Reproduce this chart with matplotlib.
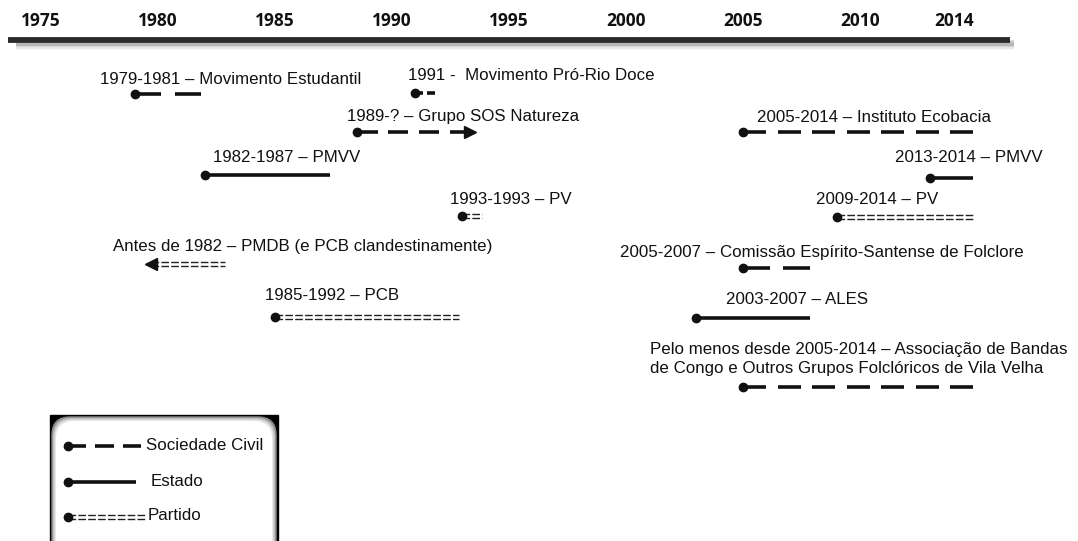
import matplotlib.pyplot as plt
import matplotlib.transforms as mtransforms
from matplotlib.patches import FancyBboxPatch, Rectangle

# --- data -------------------------------------------------------------
tick_years = [1975, 1980, 1985, 1990, 1995, 2000, 2005, 2010, 2014]

labels = [
    "1979-1981 \u2013 Movimento Estudantil",
    "1991 -  Movimento Pr\u00f3-Rio Doce",
    "1989-? \u2013 Grupo SOS Natureza",
    "1982-1987 \u2013 PMVV",
    "1993-1993 \u2013 PV",
    "Antes de 1982 \u2013 PMDB (e PCB clandestinamente)",
    "1985-1992 \u2013 PCB",
    "2005-2014 \u2013 Instituto Ecobacia",
    "2013-2014 \u2013 PMVV",
    "2009-2014 \u2013 PV",
    "2005-2007 \u2013 Comiss\u00e3o Esp\u00edrito-Santense de Folclore",
    "2003-2007 \u2013 ALES",
    "Pelo menos desde 2005-2014 \u2013 Associa\u00e7\u00e3o de Bandas\n"
    "de Congo e Outros Grupos Folcl\u00f3ricos de Vila Velha",
]
start_year = [1979, 1991, 1988.5, 1982, 1993, 1979.7, 1985, 2005, 2013, 2009, 2005, 2003, 2005]
end_year = [1981, 1991, 1992.5, 1986.5, 1993, 1982, 1992, 2014, 2014, 2014, 2007, 2007, 2014]
actor = ["civil", "civil", "civil", "estado", "partido", "partido", "partido",
         "civil", "estado", "partido", "civil", "estado", "civil"]
# open-ended spans: "right" = continues, "left" = began earlier
open_end = [None, None, "right", None, None, "left", None,
            None, None, None, None, None, None]

legend_names = ["Sociedade Civil", "Estado", "Partido"]
legend_kinds = ["civil", "estado", "partido"]

# --- layout (pixels) --------------------------------------------------
W, H = 1078, 541
PX_PER_YEAR = 23.4
X0_YEAR = 1980 - 158 / PX_PER_YEAR
line_y = [94, 93, 132, 175, 216, 264, 317, 132, 178, 217, 268, 318, 387]
label_xy = [(100, 79), (408, 76), (347, 117), (213, 158), (450, 200), (113, 246),
            (265, 295), (757, 117), (895, 158), (816, 200), (620, 253), (726, 300),
            (650, 359)]
END_FRAC = 0.85  # bar reaches into the last year

fig = plt.figure(figsize=(W / 100, H / 100), dpi=100)
ax = fig.add_axes([0, 0, 1, 1])
ax.set_xlim(X0_YEAR, X0_YEAR + W / PX_PER_YEAR)
ax.set_ylim(H, 0)
ax.axis("off")

# pixel transform for layout pieces
pxt = mtransforms.Affine2D().scale(0.01, -0.01).translate(0, H / 100) + fig.dpi_scale_trans
txt_font = dict(family="Liberation Sans", fontsize=12.2, color="#111111")

# --- timeline axis ----------------------------------------------------
for off, a in [(7, 0.06), (5.5, 0.12), (4, 0.2), (2.5, 0.3)]:
    ax.plot([16, 1014], [40 + off, 40 + off], transform=pxt, color="#777777",
            lw=4, alpha=a, solid_capstyle="butt")
ax.plot([8, 1010], [40, 40], transform=pxt, color="#2b2b2b", lw=4.2,
        solid_capstyle="butt")
for yr in tick_years:
    ax.text(yr, 21, str(yr), ha="center", va="center", fontsize=12.5,
            fontweight="bold", family="Open Sans", color="#111111")


def draw_span(x0, x1, y, kind, trans=None, arrow=None, n_dash=None, scale=PX_PER_YEAR):
    kw = {} if trans is None else {"transform": trans}
    if kind == "civil":
        length = (x1 - x0) * scale
        n = n_dash or max(2, round((length + 12) / 34))
        unit = (x1 - x0) / (n + (n - 1) * 0.5)
        for k in range(n):
            a = x0 + k * unit * 1.5
            ax.plot([a, a + unit], [y, y], color="#111111", lw=2.6,
                    solid_capstyle="butt", **kw)
    elif kind == "estado":
        ax.plot([x0, x1], [y, y], color="#111111", lw=2.6,
                solid_capstyle="butt", **kw)
    else:
        for dy in (-1.8, 1.8):
            ax.plot([x0, x1], [y + dy, y + dy], color="#222222", lw=1.0,
                    linestyle=(0, (5.5, 1.6)), **kw)
    if arrow == "right":
        ax.plot([x1], [y], marker=">", ms=8, color="#111111", **kw)
        ax.plot([x0], [y], marker="o", ms=6, color="#111111", **kw)
    elif arrow == "left":
        ax.plot([x0], [y], marker="<", ms=8, color="#111111", **kw)
    else:
        ax.plot([x0], [y], marker="o", ms=6, color="#111111", **kw)


for i, lab in enumerate(labels):
    x0 = start_year[i]
    x1 = end_year[i] + END_FRAC
    draw_span(x0, x1, line_y[i], actor[i], arrow=open_end[i])
    lx, ly = label_xy[i]
    ax.text(lx, ly, lab, transform=pxt, ha="left", va="center",
            linespacing=1.3, **txt_font)

# --- legend box -------------------------------------------------------
ax.add_patch(Rectangle((50, 415), 228, 130, transform=pxt, color="black",
                       clip_on=False))
for pad, col in [(0, "#8a8a8a"), (1.5, "#bdbdbd"), (3, "#e2e2e2"), (4.5, "white")]:
    ax.add_patch(FancyBboxPatch((52 + pad, 417 + pad), 224 - 2 * pad, 140,
                                boxstyle="round,pad=0,rounding_size=18",
                                transform=pxt, color=col, clip_on=False))

leg_rows = [446, 482, 517]
leg_ends = [141, 136, 145]
leg_text_x = [146, 151, 148]
for name, kind, y, xe, tx in zip(legend_names, legend_kinds, leg_rows, leg_ends, leg_text_x):
    draw_span(68, xe, y, kind, trans=pxt, n_dash=3, scale=1)
    ax.text(tx, y - 1, name, transform=pxt, ha="left", va="center", **txt_font)

fig.savefig("out.png", dpi=100)
